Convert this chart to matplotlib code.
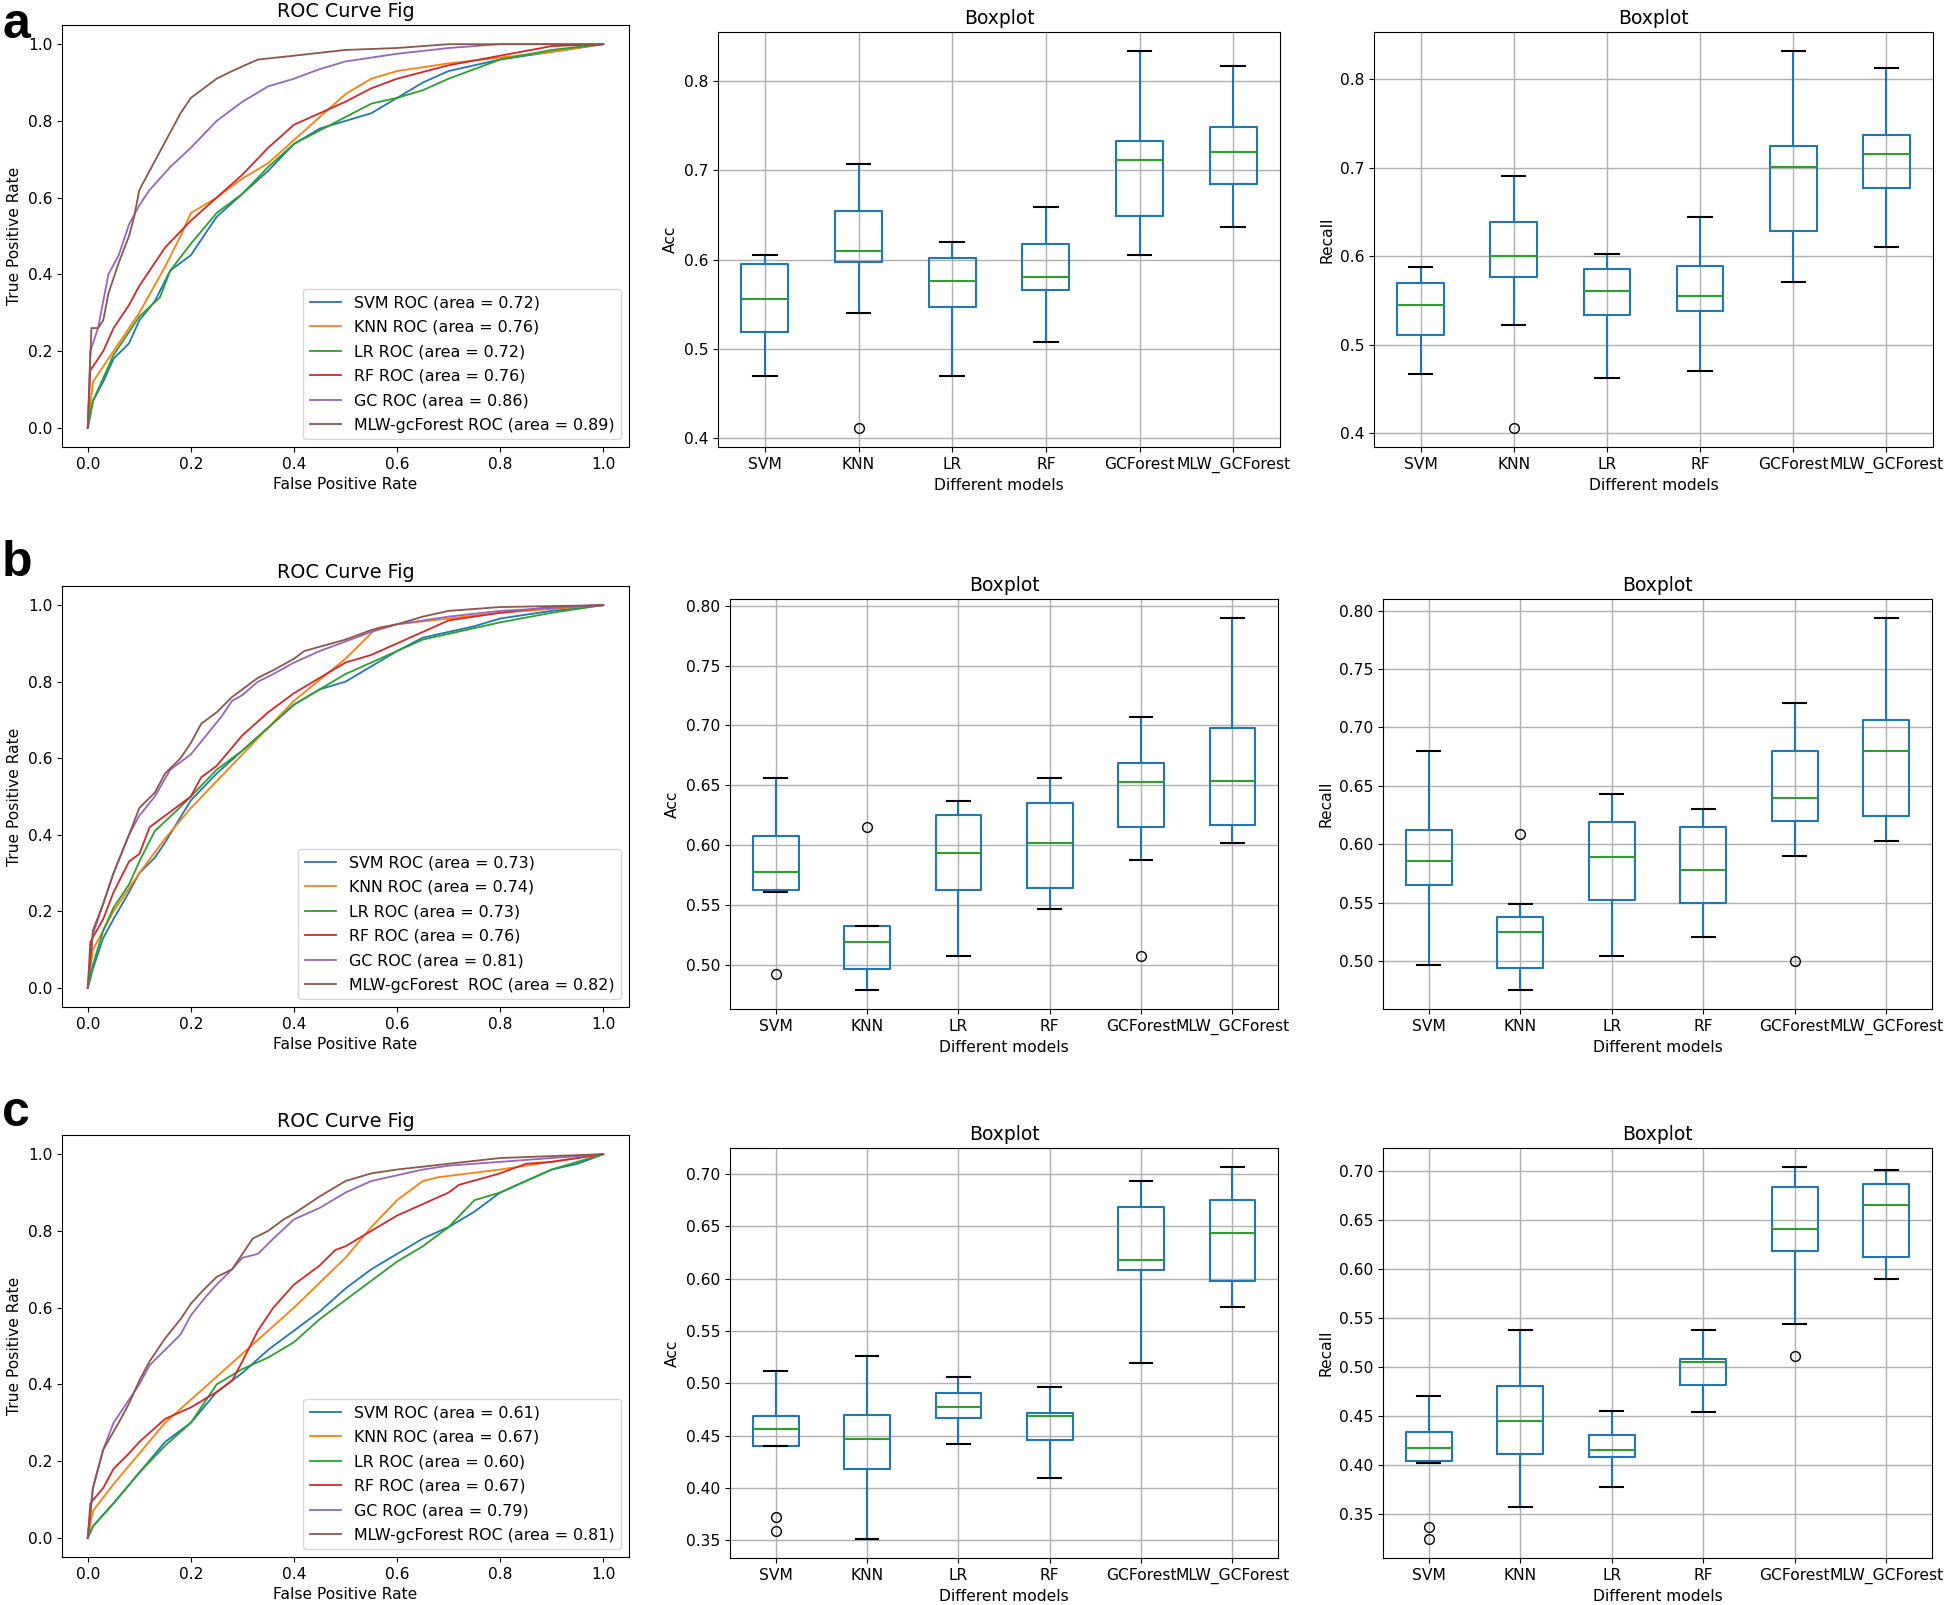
import matplotlib
matplotlib.use('Agg')
import matplotlib.pyplot as plt

W, H = 1946, 1605

models = ['SVM', 'KNN', 'LR', 'RF', 'GCForest', 'MLW_GCForest']
roc_names = ['SVM ROC', 'KNN ROC', 'LR ROC', 'RF ROC', 'GC ROC', 'MLW-gcForest ROC']
roc_colors = ['#1f77b4', '#ff7f0e', '#2ca02c', '#d62728', '#9467bd', '#8c564b']

# ---- ROC curves, panel a ----
auc_a = [0.72, 0.76, 0.72, 0.76, 0.86, 0.89]
a_svm_fpr = [0, 0.01, 0.03, 0.05, 0.08, 0.1, 0.13, 0.16, 0.2, 0.25, 0.3, 0.35, 0.4, 0.45, 0.5, 0.55, 0.6, 0.65, 0.7, 0.8, 0.9, 1]
a_svm_tpr = [0, 0.07, 0.12, 0.18, 0.22, 0.28, 0.33, 0.41, 0.45, 0.55, 0.61, 0.67, 0.74, 0.78, 0.8, 0.82, 0.86, 0.9, 0.93, 0.96, 0.98, 1]
a_knn_fpr = [0, 0.01, 0.05, 0.1, 0.15, 0.18, 0.2, 0.25, 0.3, 0.35, 0.4, 0.45, 0.5, 0.55, 0.6, 0.7, 0.8, 0.9, 1]
a_knn_tpr = [0, 0.12, 0.2, 0.3, 0.42, 0.5, 0.56, 0.6, 0.65, 0.69, 0.75, 0.81, 0.87, 0.91, 0.93, 0.95, 0.965, 0.98, 1]
a_lr_fpr = [0, 0.01, 0.03, 0.05, 0.1, 0.14, 0.16, 0.2, 0.25, 0.3, 0.35, 0.4, 0.45, 0.5, 0.55, 0.6, 0.65, 0.7, 0.8, 0.9, 1]
a_lr_tpr = [0, 0.07, 0.13, 0.19, 0.29, 0.34, 0.41, 0.48, 0.56, 0.61, 0.68, 0.74, 0.775, 0.81, 0.845, 0.86, 0.88, 0.91, 0.96, 0.985, 1]
a_rf_fpr = [0, 0.005, 0.03, 0.05, 0.08, 0.1, 0.15, 0.2, 0.25, 0.3, 0.35, 0.4, 0.45, 0.5, 0.55, 0.6, 0.7, 0.8, 0.9, 1]
a_rf_tpr = [0, 0.15, 0.2, 0.26, 0.32, 0.37, 0.47, 0.54, 0.6, 0.66, 0.73, 0.79, 0.82, 0.85, 0.885, 0.91, 0.945, 0.97, 0.995, 1]
a_gc_fpr = [0, 0.005, 0.02, 0.04, 0.06, 0.08, 0.1, 0.12, 0.14, 0.16, 0.2, 0.25, 0.3, 0.35, 0.4, 0.45, 0.5, 0.6, 0.7, 0.8, 1]
a_gc_tpr = [0, 0.2, 0.26, 0.4, 0.45, 0.53, 0.58, 0.62, 0.65, 0.68, 0.73, 0.8, 0.85, 0.89, 0.91, 0.935, 0.955, 0.975, 0.99, 1.0, 1]
a_mlw_fpr = [0, 0.007, 0.02, 0.03, 0.04, 0.06, 0.08, 0.09, 0.1, 0.12, 0.14, 0.16, 0.18, 0.2, 0.25, 0.28, 0.33, 0.4, 0.5, 0.6, 0.7, 1]
a_mlw_tpr = [0, 0.26, 0.26, 0.28, 0.35, 0.43, 0.5, 0.55, 0.62, 0.67, 0.72, 0.77, 0.82, 0.86, 0.91, 0.93, 0.96, 0.97, 0.985, 0.99, 1.0, 1]

# ---- ROC curves, panel b ----
auc_b = [0.73, 0.74, 0.73, 0.76, 0.81, 0.82]
b_svm_fpr = [0, 0.01, 0.03, 0.05, 0.08, 0.1, 0.13, 0.15, 0.2, 0.25, 0.3, 0.35, 0.4, 0.45, 0.5, 0.55, 0.6, 0.65, 0.7, 0.75, 0.8, 0.9, 1]
b_svm_tpr = [0, 0.05, 0.13, 0.18, 0.25, 0.3, 0.34, 0.38, 0.49, 0.56, 0.62, 0.68, 0.74, 0.78, 0.8, 0.84, 0.88, 0.915, 0.93, 0.945, 0.965, 0.985, 1]
b_knn_fpr = [0, 0.01, 0.05, 0.1, 0.15, 0.2, 0.3, 0.4, 0.5, 0.56, 0.6, 0.7, 0.8, 0.9, 1]
b_knn_tpr = [0, 0.1, 0.2, 0.3, 0.39, 0.47, 0.61, 0.75, 0.86, 0.94, 0.95, 0.965, 0.98, 0.99, 1]
b_lr_fpr = [0, 0.01, 0.03, 0.05, 0.08, 0.1, 0.13, 0.17, 0.2, 0.25, 0.3, 0.35, 0.4, 0.45, 0.5, 0.55, 0.6, 0.65, 0.7, 0.8, 0.9, 1]
b_lr_tpr = [0, 0.06, 0.15, 0.21, 0.27, 0.33, 0.41, 0.46, 0.5, 0.57, 0.62, 0.68, 0.74, 0.78, 0.82, 0.85, 0.88, 0.91, 0.925, 0.955, 0.98, 1]
b_rf_fpr = [0, 0.005, 0.03, 0.05, 0.08, 0.1, 0.12, 0.15, 0.2, 0.22, 0.25, 0.3, 0.35, 0.4, 0.45, 0.5, 0.55, 0.6, 0.65, 0.7, 0.8, 0.9, 1]
b_rf_tpr = [0, 0.12, 0.18, 0.25, 0.33, 0.35, 0.42, 0.45, 0.5, 0.55, 0.58, 0.66, 0.72, 0.77, 0.81, 0.85, 0.87, 0.9, 0.93, 0.96, 0.98, 0.995, 1]
b_gc_fpr = [0, 0.01, 0.03, 0.05, 0.08, 0.1, 0.13, 0.16, 0.2, 0.23, 0.26, 0.28, 0.3, 0.33, 0.36, 0.4, 0.45, 0.5, 0.55, 0.6, 0.7, 0.8, 1]
b_gc_tpr = [0, 0.14, 0.22, 0.3, 0.4, 0.45, 0.5, 0.57, 0.61, 0.66, 0.71, 0.75, 0.765, 0.8, 0.82, 0.85, 0.88, 0.905, 0.93, 0.95, 0.97, 0.985, 1]
b_mlw_fpr = [0, 0.01, 0.03, 0.05, 0.08, 0.1, 0.13, 0.15, 0.18, 0.2, 0.22, 0.25, 0.28, 0.3, 0.33, 0.36, 0.4, 0.42, 0.5, 0.55, 0.6, 0.65, 0.7, 0.8, 1]
b_mlw_tpr = [0, 0.15, 0.22, 0.3, 0.4, 0.47, 0.51, 0.56, 0.6, 0.64, 0.69, 0.72, 0.76, 0.78, 0.81, 0.83, 0.86, 0.88, 0.91, 0.935, 0.95, 0.97, 0.985, 0.995, 1]

# ---- ROC curves, panel c ----
auc_c = [0.61, 0.67, 0.60, 0.67, 0.79, 0.81]
c_svm_fpr = [0, 0.01, 0.05, 0.1, 0.15, 0.2, 0.25, 0.3, 0.35, 0.4, 0.45, 0.5, 0.55, 0.6, 0.65, 0.7, 0.75, 0.8, 0.85, 0.9, 0.95, 1]
c_svm_tpr = [0, 0.03, 0.09, 0.17, 0.25, 0.3, 0.38, 0.43, 0.49, 0.54, 0.59, 0.65, 0.7, 0.74, 0.78, 0.81, 0.85, 0.9, 0.93, 0.96, 0.975, 1]
c_knn_fpr = [0, 0.01, 0.05, 0.1, 0.15, 0.2, 0.3, 0.4, 0.5, 0.55, 0.6, 0.65, 0.68, 0.8, 0.9, 1]
c_knn_tpr = [0, 0.07, 0.14, 0.22, 0.3, 0.36, 0.48, 0.6, 0.73, 0.81, 0.88, 0.93, 0.94, 0.96, 0.98, 1]
c_lr_fpr = [0, 0.01, 0.05, 0.1, 0.15, 0.2, 0.25, 0.3, 0.35, 0.4, 0.45, 0.5, 0.55, 0.6, 0.65, 0.7, 0.75, 0.8, 0.85, 0.9, 0.95, 1]
c_lr_tpr = [0, 0.03, 0.09, 0.17, 0.24, 0.3, 0.4, 0.44, 0.47, 0.51, 0.57, 0.62, 0.67, 0.72, 0.76, 0.81, 0.88, 0.9, 0.93, 0.96, 0.98, 1]
c_rf_fpr = [0, 0.005, 0.03, 0.05, 0.08, 0.1, 0.15, 0.2, 0.25, 0.28, 0.3, 0.33, 0.36, 0.4, 0.45, 0.48, 0.5, 0.55, 0.6, 0.65, 0.7, 0.72, 0.8, 0.85, 0.9, 1]
c_rf_tpr = [0, 0.09, 0.13, 0.18, 0.22, 0.25, 0.31, 0.34, 0.38, 0.41, 0.46, 0.54, 0.6, 0.66, 0.71, 0.75, 0.76, 0.8, 0.84, 0.87, 0.9, 0.92, 0.95, 0.975, 0.98, 1]
c_gc_fpr = [0, 0.01, 0.03, 0.05, 0.08, 0.1, 0.12, 0.15, 0.18, 0.2, 0.23, 0.25, 0.28, 0.3, 0.33, 0.36, 0.4, 0.45, 0.5, 0.55, 0.6, 0.65, 0.7, 0.8, 0.9, 1]
c_gc_tpr = [0, 0.13, 0.23, 0.3, 0.36, 0.4, 0.45, 0.49, 0.53, 0.58, 0.63, 0.66, 0.7, 0.73, 0.74, 0.78, 0.83, 0.86, 0.9, 0.93, 0.945, 0.96, 0.97, 0.98, 0.99, 1]
c_mlw_fpr = [0, 0.01, 0.03, 0.06, 0.08, 0.1, 0.12, 0.15, 0.18, 0.2, 0.22, 0.25, 0.28, 0.3, 0.32, 0.35, 0.38, 0.4, 0.45, 0.5, 0.55, 0.6, 0.7, 0.8, 0.9, 1]
c_mlw_tpr = [0, 0.13, 0.23, 0.3, 0.35, 0.41, 0.46, 0.52, 0.57, 0.61, 0.64, 0.68, 0.7, 0.74, 0.78, 0.8, 0.83, 0.845, 0.89, 0.93, 0.95, 0.96, 0.975, 0.99, 0.995, 1]

# ---- Boxplot statistics (order: SVM, KNN, LR, RF, GCForest, MLW_GCForest) ----
acc_a_lo = [0.469, 0.540, 0.469, 0.508, 0.605, 0.636]
acc_a_q1 = [0.519, 0.597, 0.547, 0.566, 0.649, 0.685]
acc_a_med = [0.556, 0.610, 0.576, 0.580, 0.712, 0.721]
acc_a_q3 = [0.595, 0.654, 0.602, 0.617, 0.733, 0.749]
acc_a_hi = [0.605, 0.707, 0.620, 0.659, 0.834, 0.817]
acc_a_out = [[], [0.411], [], [], [], []]

rec_a_lo = [0.4675, 0.523, 0.463, 0.471, 0.571, 0.610]
rec_a_q1 = [0.511, 0.577, 0.534, 0.538, 0.629, 0.677]
rec_a_med = [0.545, 0.600, 0.561, 0.555, 0.701, 0.715]
rec_a_q3 = [0.570, 0.639, 0.586, 0.589, 0.725, 0.737]
rec_a_hi = [0.588, 0.691, 0.603, 0.644, 0.832, 0.813]
rec_a_out = [[], [0.406], [], [], [], []]

acc_b_lo = [0.561, 0.479, 0.5075, 0.547, 0.588, 0.602]
acc_b_q1 = [0.563, 0.497, 0.563, 0.564, 0.615, 0.617]
acc_b_med = [0.578, 0.5195, 0.594, 0.602, 0.653, 0.654]
acc_b_q3 = [0.608, 0.533, 0.625, 0.635, 0.669, 0.698]
acc_b_hi = [0.656, 0.533, 0.637, 0.656, 0.707, 0.790]
acc_b_out = [[0.493], [0.615], [], [], [0.5075], []]

rec_b_lo = [0.497, 0.475, 0.504, 0.521, 0.590, 0.603]
rec_b_q1 = [0.565, 0.494, 0.552, 0.550, 0.620, 0.624]
rec_b_med = [0.586, 0.525, 0.589, 0.578, 0.640, 0.680]
rec_b_q3 = [0.612, 0.538, 0.619, 0.615, 0.680, 0.706]
rec_b_hi = [0.680, 0.5485, 0.643, 0.630, 0.7207, 0.794]
rec_b_out = [[], [0.609], [], [], [0.500], []]

acc_c_lo = [0.440, 0.351, 0.442, 0.4096, 0.519, 0.573]
acc_c_q1 = [0.440, 0.418, 0.467, 0.4455, 0.608, 0.598]
acc_c_med = [0.456, 0.447, 0.477, 0.469, 0.618, 0.644]
acc_c_q3 = [0.469, 0.470, 0.491, 0.472, 0.668, 0.675]
acc_c_hi = [0.512, 0.526, 0.506, 0.497, 0.693, 0.707]
acc_c_out = [[0.372, 0.359], [], [], [], [], []]

rec_c_lo = [0.402, 0.357, 0.377, 0.454, 0.5435, 0.5898]
rec_c_q1 = [0.4044, 0.411, 0.4075, 0.481, 0.618, 0.6116]
rec_c_med = [0.4167, 0.445, 0.415, 0.5044, 0.640, 0.665]
rec_c_q3 = [0.4337, 0.480, 0.430, 0.508, 0.683, 0.686]
rec_c_hi = [0.470, 0.537, 0.455, 0.537, 0.704, 0.7007]
rec_c_out = [[0.3367, 0.324], [], [], [], [0.5105], []]

plt.rcParams['font.size'] = 11.2
fig = plt.figure(figsize=(W / 100, H / 100), dpi=100)


def rect(l, t, r, b):
    return [l / W, 1 - b / H, (r - l) / W, (b - t) / H]


def roc_panel(box, curves, aucs, mlw_sep=' '):
    ax = fig.add_axes(rect(*box))
    for i, (x, y) in enumerate(curves):
        name = roc_names[i]
        if i == 5:
            name = 'MLW-gcForest' + mlw_sep + 'ROC'
        ax.plot(x, y, color=roc_colors[i], lw=1.3,
                label='%s (area = %0.2f)' % (name, aucs[i]))
    ax.set_xlim(-0.05, 1.05)
    ax.set_ylim(-0.05, 1.05)
    ax.set_xlabel('False Positive Rate')
    ax.set_ylabel('True Positive Rate')
    ax.set_title('ROC Curve Fig', fontsize=13.8)
    ax.legend(loc='lower right', fontsize=11.4, labelspacing=0.6)
    return ax


def box_panel(box, lo, q1, med, q3, hi, out, ylabel, yticks):
    ax = fig.add_axes(rect(*box))
    stats = []
    for i in range(len(models)):
        stats.append(dict(whislo=lo[i], q1=q1[i], med=med[i], q3=q3[i],
                          whishi=hi[i], fliers=out[i], label=models[i]))
    ax.bxp(stats, widths=0.5,
           boxprops=dict(color='#1f77b4', lw=1.5),
           whiskerprops=dict(color='#1f77b4', lw=1.5),
           capprops=dict(color='k', lw=1.5),
           medianprops=dict(color='#2ca02c', lw=1.5),
           flierprops=dict(marker='o', markerfacecolor='none',
                           markeredgecolor='k', markersize=7))
    ax.set_yticks(yticks)
    ax.grid(True, color='#b0b0b0', lw=1.0)
    ax.set_axisbelow(True)
    ax.set_xlabel('Different models')
    ax.set_ylabel(ylabel)
    ax.set_title('Boxplot', fontsize=13.5)
    return ax


tick01 = [0.4, 0.5, 0.6, 0.7, 0.8]

roc_panel((62, 25, 629, 447),
          [(a_svm_fpr, a_svm_tpr), (a_knn_fpr, a_knn_tpr), (a_lr_fpr, a_lr_tpr),
           (a_rf_fpr, a_rf_tpr), (a_gc_fpr, a_gc_tpr), (a_mlw_fpr, a_mlw_tpr)], auc_a)
box_panel((718, 32, 1280, 447), acc_a_lo, acc_a_q1, acc_a_med, acc_a_q3, acc_a_hi,
          acc_a_out, 'Acc', tick01)
box_panel((1374, 32, 1933, 447), rec_a_lo, rec_a_q1, rec_a_med, rec_a_q3, rec_a_hi,
          rec_a_out, 'Recall', tick01)

tick_b = [0.50, 0.55, 0.60, 0.65, 0.70, 0.75, 0.80]
roc_panel((62, 586, 629, 1007),
          [(b_svm_fpr, b_svm_tpr), (b_knn_fpr, b_knn_tpr), (b_lr_fpr, b_lr_tpr),
           (b_rf_fpr, b_rf_tpr), (b_gc_fpr, b_gc_tpr), (b_mlw_fpr, b_mlw_tpr)], auc_b,
          mlw_sep='  ')
box_panel((730, 599, 1278, 1009), acc_b_lo, acc_b_q1, acc_b_med, acc_b_q3, acc_b_hi,
          acc_b_out, 'Acc', tick_b)
box_panel((1383, 599, 1932, 1009), rec_b_lo, rec_b_q1, rec_b_med, rec_b_q3, rec_b_hi,
          rec_b_out, 'Recall', tick_b)

tick_c = [0.35, 0.40, 0.45, 0.50, 0.55, 0.60, 0.65, 0.70]
roc_panel((62, 1135, 629, 1557),
          [(c_svm_fpr, c_svm_tpr), (c_knn_fpr, c_knn_tpr), (c_lr_fpr, c_lr_tpr),
           (c_rf_fpr, c_rf_tpr), (c_gc_fpr, c_gc_tpr), (c_mlw_fpr, c_mlw_tpr)], auc_c)
box_panel((730, 1148, 1278, 1558), acc_c_lo, acc_c_q1, acc_c_med, acc_c_q3, acc_c_hi,
          acc_c_out, 'Acc', tick_c)
box_panel((1383, 1148, 1932, 1558), rec_c_lo, rec_c_q1, rec_c_med, rec_c_q3, rec_c_hi,
          rec_c_out, 'Recall', tick_c)

# panel letters
for letter, top in [('a', 2), ('b', 540), ('c', 1090)]:
    fig.text(2 / W, 1 - top / H, letter, family='Liberation Sans', weight='bold',
             fontsize=36, va='top', ha='left')

fig.savefig('out.png', dpi=100)
